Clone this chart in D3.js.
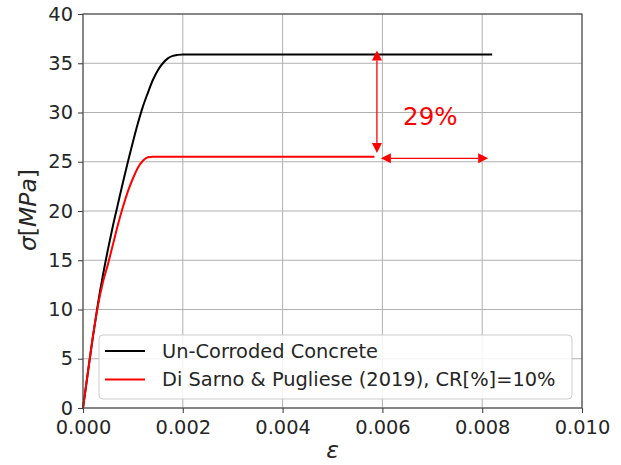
<!DOCTYPE html>
<html>
<head>
<meta charset="utf-8">
<script src="https://cdn.jsdelivr.net/npm/d3@7/dist/d3.min.js"></script>
<style>
  html, body { margin: 0; padding: 0; background: #fff; }
  svg { display: block; }
  text { font-family: "DejaVu Sans", sans-serif; fill: #262626; }
</style>
</head>
<body>
<svg id="chart" width="621" height="465"></svg>
<script>
// ---- data ----
const xTicks = [0, 0.002, 0.004, 0.006, 0.008, 0.010];
const yTicks = [0, 5, 10, 15, 20, 25, 30, 35, 40];
const seriesNames = ["Un-Corroded Concrete", "Di Sarno & Pugliese (2019), CR[%]=10%"];
const seriesColors = ["#000000", "#ff0000"];

const uncorrodedStrain = [0, 0.0001, 0.0002, 0.0003, 0.0004, 0.0005, 0.0006, 0.0007, 0.0008, 0.0009, 0.0010,
  0.0011, 0.0012, 0.0013, 0.0014, 0.0015, 0.0016, 0.0017, 0.0018, 0.0019, 0.0020, 0.0082];
const uncorrodedStress = [0, 3.7, 7.3, 10.6, 13.5, 16.1, 18.5, 20.7, 22.9, 25.0, 27.0,
  28.9, 30.6, 32.0, 33.3, 34.3, 35.0, 35.5, 35.75, 35.85, 35.9, 35.9];

const corrodedStrain = [0, 0.0001, 0.0002, 0.0003, 0.0004, 0.0005, 0.0006, 0.0007, 0.0008, 0.0009, 0.0010,
  0.0011, 0.0012, 0.0013, 0.0014, 0.00584];
const corrodedStress = [0, 3.7, 7.3, 10.4, 12.8, 14.6, 16.6, 18.6, 20.4, 22.0, 23.3,
  24.4, 25.1, 25.45, 25.5, 25.5];

// annotation
const vArrow = { x: 0.00589, y0: 25.9, y1: 36.3 };
const hArrow = { y: 25.35, x0: 0.00597, x1: 0.00812 };
const annotText = { x: 0.00696, y: 29.6, label: "29%" };

// ---- layout ----
const svg = d3.select("#chart");
const W = 621, H = 465;
const m = { left: 83, right: 39, top: 14, bottom: 57 };
const x = d3.scaleLinear().domain([0, 0.010]).range([m.left, W - m.right]);
const y = d3.scaleLinear().domain([0, 40]).range([H - m.bottom, m.top]);

// grid
const grid = svg.append("g");
grid.selectAll(".gx").data(xTicks).join("line")
  .attr("x1", d => x(d)).attr("x2", d => x(d))
  .attr("y1", y(0)).attr("y2", y(40))
  .attr("stroke", "#b0b0b0").attr("stroke-width", 1);
grid.selectAll(".gy").data(yTicks).join("line")
  .attr("y1", d => y(d)).attr("y2", d => y(d))
  .attr("x1", x(0)).attr("x2", x(0.010))
  .attr("stroke", "#b0b0b0").attr("stroke-width", 1);

// lines
const line = d3.line().x(d => x(d[0])).y(d => y(d[1])).curve(d3.curveMonotoneX);
const s1 = uncorrodedStrain.map((e, i) => [e, uncorrodedStress[i]]);
const s2 = corrodedStrain.map((e, i) => [e, corrodedStress[i]]);
svg.append("path").datum(s1).attr("d", line).attr("fill", "none")
  .attr("stroke", seriesColors[0]).attr("stroke-width", 2);
svg.append("path").datum(s2).attr("d", line).attr("fill", "none")
  .attr("stroke", seriesColors[1]).attr("stroke-width", 2);

// arrows
const red = "#ff0000";
const ah = 10, aw = 5;
const ann = svg.append("g");
{
  const xv = x(vArrow.x), ya = y(vArrow.y1), yb = y(vArrow.y0);
  ann.append("line").attr("x1", xv).attr("x2", xv).attr("y1", ya + ah).attr("y2", yb - ah)
    .attr("stroke", red).attr("stroke-width", 1.3);
  ann.append("path").attr("d", `M${xv},${ya} L${xv - aw},${ya + ah} L${xv + aw},${ya + ah} Z`).attr("fill", red);
  ann.append("path").attr("d", `M${xv},${yb} L${xv - aw},${yb - ah} L${xv + aw},${yb - ah} Z`).attr("fill", red);
  const yh = y(hArrow.y), xa = x(hArrow.x0), xb = x(hArrow.x1);
  ann.append("line").attr("x1", xa + ah).attr("x2", xb - ah).attr("y1", yh).attr("y2", yh)
    .attr("stroke", red).attr("stroke-width", 1.3);
  ann.append("path").attr("d", `M${xa},${yh} L${xa + ah},${yh - aw} L${xa + ah},${yh + aw} Z`).attr("fill", red);
  ann.append("path").attr("d", `M${xb},${yh} L${xb - ah},${yh - aw} L${xb - ah},${yh + aw} Z`).attr("fill", red);
  ann.append("text").attr("x", x(annotText.x)).attr("y", y(annotText.y))
    .attr("text-anchor", "middle").attr("dominant-baseline", "central")
    .style("font-size", "24.5px").style("fill", red).text(annotText.label);
}

// spines
svg.append("rect").attr("x", x(0)).attr("y", y(40))
  .attr("width", x(0.010) - x(0)).attr("height", y(0) - y(40))
  .attr("fill", "none").attr("stroke", "#444").attr("stroke-width", 1.1);

// axes
const fmt = d3.format(".3f");
const xAxis = svg.append("g").attr("transform", `translate(0,${y(0)})`)
  .call(d3.axisBottom(x).tickValues(xTicks).tickFormat(fmt).tickSize(5).tickPadding(7));
const yAxis = svg.append("g").attr("transform", `translate(${x(0)},0)`)
  .call(d3.axisLeft(y).tickValues(yTicks).tickSize(5).tickPadding(5));
[xAxis, yAxis].forEach(a => {
  a.select(".domain").remove();
  a.selectAll(".tick line").attr("stroke", "#444").attr("stroke-width", 1.1);
  a.selectAll(".tick text").style("font-size", "19.4px").style("font-family", "DejaVu Sans").attr("fill", "#262626");
});

// axis labels
svg.append("text").attr("x", (x(0) + x(0.010)) / 2).attr("y", 458)
  .attr("text-anchor", "middle").style("font-size", "23.5px").style("font-style", "italic").text("ε");
const yl = svg.append("text").attr("transform", `translate(36,${(y(0) + y(40)) / 2 - 1}) rotate(-90)`)
  .attr("text-anchor", "middle").style("font-size", "23.5px");
yl.append("tspan").style("font-style", "italic").text("σ");
yl.append("tspan").text("[");
yl.append("tspan").style("font-style", "italic").text("MPa");
yl.append("tspan").text("]");

// legend
const lg = svg.append("g");
lg.append("rect").attr("x", 99).attr("y", 335).attr("width", 473).attr("height", 64)
  .attr("rx", 4).attr("fill", "#fff").attr("fill-opacity", 0.85)
  .attr("stroke", "#cccccc").attr("stroke-width", 1);
seriesNames.forEach((name, i) => {
  const yy = 351 + i * 28.5;
  lg.append("line").attr("x1", 105).attr("x2", 145).attr("y1", yy).attr("y2", yy)
    .attr("stroke", seriesColors[i]).attr("stroke-width", 2);
  lg.append("text").attr("x", 162).attr("y", yy).attr("dominant-baseline", "central")
    .style("font-size", "19.4px").text(name);
});
</script>
</body>
</html>
